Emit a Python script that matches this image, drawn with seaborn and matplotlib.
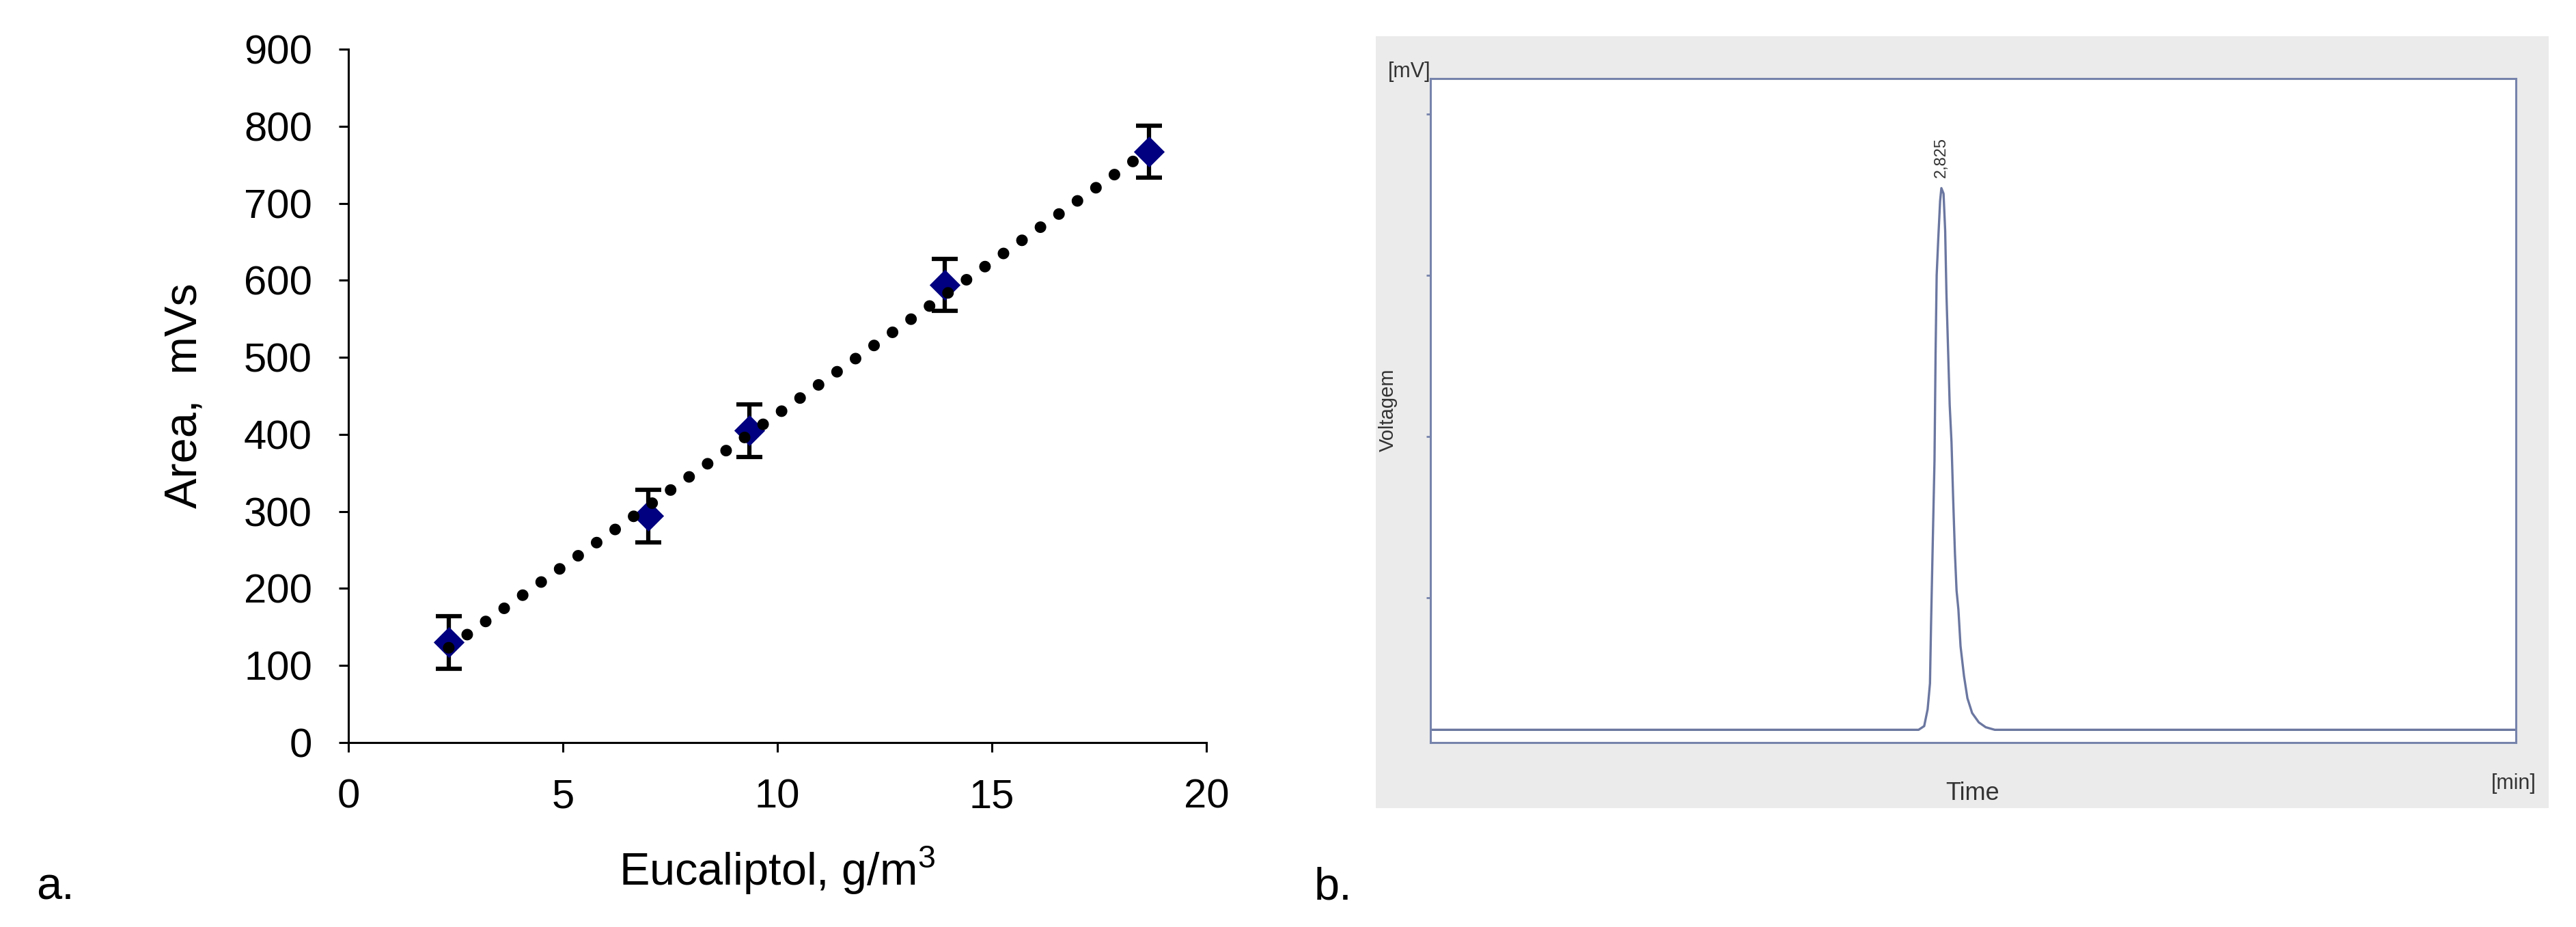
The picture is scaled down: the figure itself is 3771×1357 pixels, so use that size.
import matplotlib
matplotlib.use("Agg")
import matplotlib.pyplot as plt
import seaborn as sns

# panel a: calibration data
conc = [2.34, 7.0, 9.35, 13.9, 18.66]          # g/m3
area = [130, 294, 405, 594, 767]               # mVs
area_err = [34, 34, 34, 34, 34]
trend_x = [2.34, 18.66]
trend_y = [123, 769]

# panel b: chromatogram trace (time in min, signal in mV)
time = [0.0, 2.628, 2.698, 2.729, 2.748, 2.761, 2.767, 2.773, 2.779, 2.786,
        2.792, 2.798, 2.807, 2.817, 2.824, 2.836, 2.845, 2.852, 2.861, 2.870,
        2.880, 2.889, 2.899, 2.908, 2.918, 2.930, 2.949, 2.968, 2.994, 3.031,
        3.069, 3.119, 6.0]
signal = [17.9, 17.9, 17.9, 20.2, 30.6, 46.7, 83.5, 115.8, 148.0, 184.8,
          251.6, 300.0, 323.0, 346.0, 354.0, 350.6, 327.6, 288.5, 254.0, 219.4,
          196.4, 161.8, 127.3, 104.2, 92.7, 69.7, 51.3, 37.5, 28.3, 22.5,
          19.5, 17.9, 17.9]
peak_time = 2.825
peak_label = "2,825"

sns.set_style("ticks")
plt.rcParams['font.family'] = ['Liberation Sans', 'DejaVu Sans']
plt.rcParams['mathtext.fontset'] = 'custom'
plt.rcParams['mathtext.rm'] = 'Liberation Sans'
plt.rcParams['mathtext.it'] = 'Liberation Sans'
plt.rcParams['text.color'] = 'black'
plt.rcParams['axes.labelcolor'] = 'black'
plt.rcParams['xtick.color'] = 'black'
plt.rcParams['ytick.color'] = 'black'

fig = plt.figure(figsize=(37.71, 13.57), dpi=100)

# ---- panel a ----
ax1 = fig.add_axes([0.1352, 0.1990, 0.3331, 0.7479])
ax1.errorbar(conc, area, yerr=area_err, fmt='none', ecolor='black',
             elinewidth=4.5, capsize=14, capthick=4.5, zorder=2)
sns.scatterplot(x=conc, y=area, marker='D', s=530, color='#000080',
                edgecolor='#000080', linewidth=0, ax=ax1, zorder=3)
sns.lineplot(x=trend_x, y=trend_y, ax=ax1, color='black', lw=12.2,
             linestyle=(0, (0.01, 1.95)), dash_capstyle='round', zorder=4)
ax1.set_xlim(0, 20)
ax1.set_ylim(0, 900)
ax1.set_xticks([0, 5, 10, 15, 20])
ax1.set_yticks(range(0, 901, 100))
ax1.tick_params(direction='out', length=10, width=2.2, labelsize=43,
                color='black', labelcolor='black', pad=28)
for s in ['top', 'right']:
    ax1.spines[s].set_visible(False)
for s in ['left', 'bottom']:
    ax1.spines[s].set_linewidth(2.2)
    ax1.spines[s].set_color('black')
ax1.set_xlabel('Eucaliptol, g/m$^3$', fontsize=48, labelpad=30, color='black')
ax1.set_ylabel('Area,  mVs', fontsize=48, labelpad=40, color='black')

# ---- panel b ----
bg = fig.add_axes([0.5341, 0.1282, 0.4553, 0.8327], zorder=0)
bg.set_facecolor('#ebebeb')
bg.set_xticks([])
bg.set_yticks([])
for s in bg.spines.values():
    s.set_visible(False)

box_col = '#7683ab'
ax2 = fig.add_axes([0.5553, 0.1990, 0.4214, 0.7163], zorder=1)
ax2.set_facecolor('white')
sns.lineplot(x=time, y=signal, ax=ax2, color='#6b77a0', lw=2.4,
             estimator=None, sort=False)
ax2.set_xlim(0, 6)
ax2.set_ylim(10, 422)
ax2.set_xticks([])
ax2.set_yticks([100, 200, 300, 400])
ax2.set_yticklabels([])
ax2.tick_params(axis='y', direction='out', length=4.5, width=2, color=box_col)
for s in ax2.spines.values():
    s.set_visible(True)
    s.set_color(box_col)
    s.set_linewidth(2.2)
ax2.set_xlabel('')
ax2.set_ylabel('')
ax2.text(peak_time, 373, peak_label, rotation=90, ha='center', va='center',
         fontsize=17, color='#333333',
         family=['Liberation Sans Narrow', 'Liberation Sans'])

narrow = ['Liberation Sans Narrow', 'Liberation Sans']
fig.text(0.5471, 0.9226, '[mV]', ha='center', va='center', fontsize=22,
         color='#333333', family=narrow)
fig.text(0.9759, 0.1548, '[min]', ha='center', va='center', fontsize=22,
         color='#333333', family=narrow)
fig.text(0.7658, 0.1437, 'Time', ha='center', va='center', fontsize=26,
         color='#333333', family=narrow)
fig.text(0.5389, 0.5578, 'Voltagem', ha='center', va='center', fontsize=21,
         rotation=90, color='#333333')

# panel letters
fig.text(0.014, 0.0427, 'a.', ha='left', va='center', fontsize=48)
fig.text(0.510, 0.0427, 'b.', ha='left', va='center', fontsize=48)

fig.savefig('out.png', dpi=100)
